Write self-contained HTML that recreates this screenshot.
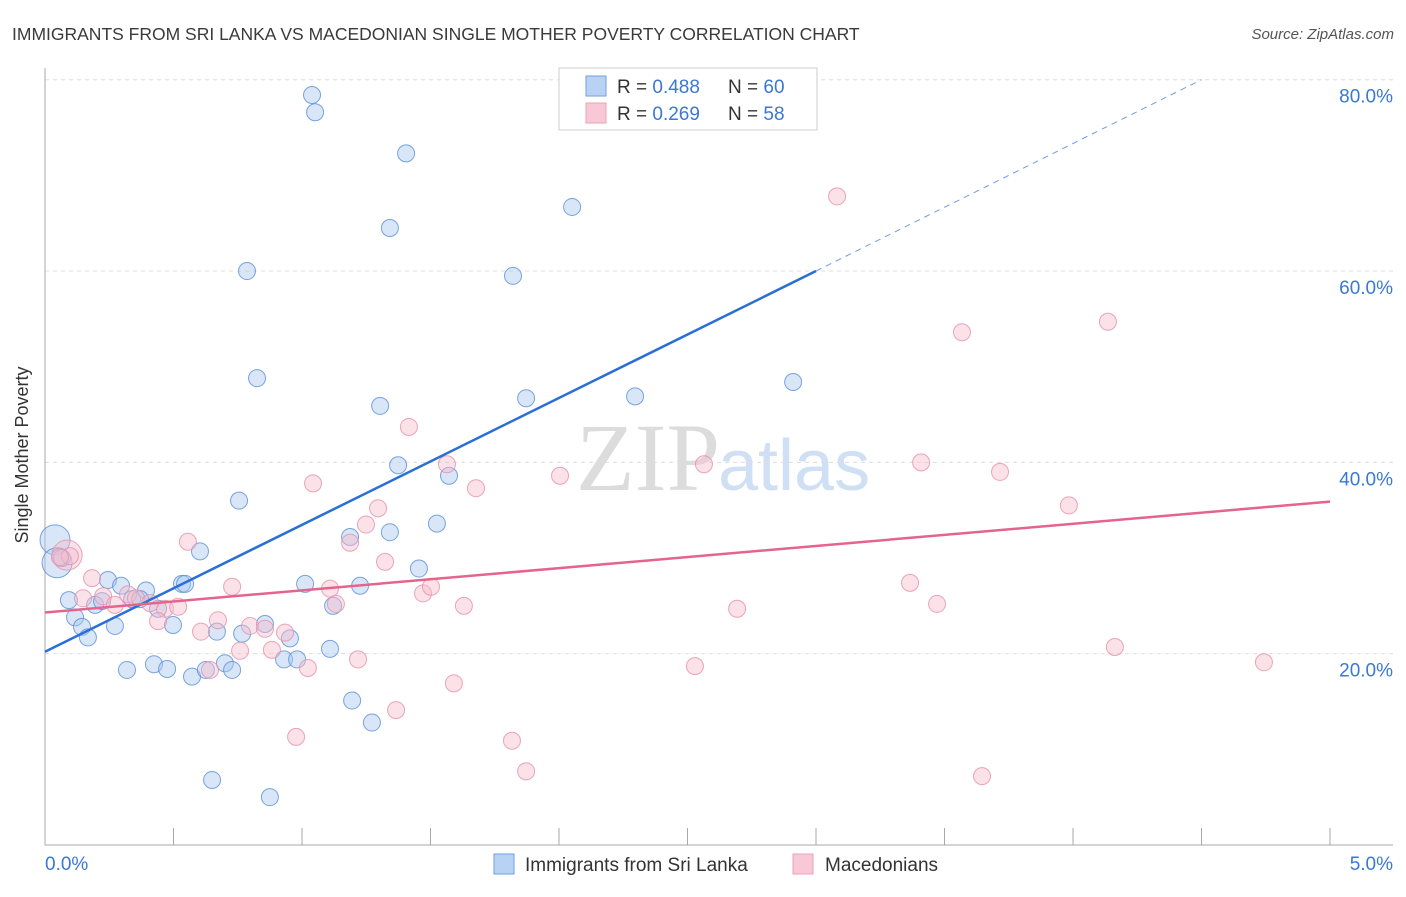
<!DOCTYPE html>
<html><head><meta charset="utf-8"><style>
body{margin:0;background:#fff;font-family:"Liberation Sans",sans-serif}
</style></head><body>
<svg width="1406" height="892" xmlns="http://www.w3.org/2000/svg" id="svg" font-family="Liberation Sans, sans-serif">
<text x="12" y="40" font-size="17.5" fill="#3a3a3a">IMMIGRANTS FROM SRI LANKA VS MACEDONIAN SINGLE MOTHER POVERTY CORRELATION CHART</text>
<text x="1394" y="39" font-size="15" fill="#555" font-style="italic" text-anchor="end">Source: ZipAtlas.com</text>
<text x="720" y="490" font-size="96" fill="#dcdcdc" font-family="Liberation Serif, serif" text-anchor="end">ZIP</text>
<text x="718" y="490" font-size="72" fill="#cfe0f4">atlas</text>
<text x="28" y="455" font-size="18" fill="#333" transform="rotate(-90 28 455)" text-anchor="middle">Single Mother Poverty</text>
<g id="grid"></g><g id="pts"></g><g id="lines"></g>
<g>
<rect x="559" y="68" width="258" height="62" fill="#fff" stroke="#ccc"/>
<rect x="586" y="76" width="20" height="20" fill="#b8d2f3" stroke="#6fa0e0"/>
<rect x="586" y="103" width="20" height="20" fill="#f8c8d6" stroke="#eba0b8"/>
<text x="617" y="93" font-size="19" fill="#333">R = <tspan fill="#3a78d6">0.488</tspan></text>
<text x="728" y="93" font-size="19" fill="#333">N = <tspan fill="#3a78d6">60</tspan></text>
<text x="617" y="120" font-size="19" fill="#333">R = <tspan fill="#3a78d6">0.269</tspan></text>
<text x="728" y="120" font-size="19" fill="#333">N = <tspan fill="#3a78d6">58</tspan></text>
</g>
<g>
<rect x="494" y="854" width="20" height="20" fill="#b8d2f3" stroke="#6fa0e0"/>
<text x="525" y="871" font-size="19" fill="#333">Immigrants from Sri Lanka</text>
<rect x="793" y="854" width="20" height="20" fill="#f8c8d6" stroke="#eba0b8"/>
<text x="825" y="871" font-size="19" fill="#333">Macedonians</text>
</g>
</svg>
<script>
const yTicks=[20,40,60,80];
const xTickLabels=["0.0%","5.0%"];
const blueX=[1.039,1.051,1.405,1.342,2.051,0.786,1.821,0.825,2.911,1.304,1.872,2.296,1.374,1.572,0.755,1.525,1.187,1.342,0.603,0.039,0.047,0.066,0.245,0.296,0.393,0.533,0.545,1.012,1.226,1.455,0.093,0.195,0.222,0.339,0.370,0.440,0.498,0.117,0.144,0.167,0.272,0.669,0.767,0.856,0.953,1.109,1.121,0.319,0.424,0.475,0.572,0.626,0.700,0.728,0.930,0.981,1.195,1.272,0.650,0.875];
const blueY=[78.4,76.6,72.3,64.5,66.7,60.0,59.5,48.8,48.4,45.9,46.7,46.9,39.7,38.6,36.0,33.6,32.2,32.7,30.7,31.9,29.5,30.0,27.7,27.1,26.6,27.3,27.3,27.3,27.1,28.9,25.6,25.1,25.5,25.7,25.7,24.7,23.0,23.8,22.8,21.7,22.9,22.3,22.1,23.1,21.6,20.5,25.0,18.3,18.9,18.4,17.6,18.3,19.0,18.3,19.4,19.4,15.1,12.8,6.8,5.0];
const pinkX=[3.082,3.568,4.136,1.416,1.564,2.004,2.564,3.409,3.716,1.043,1.677,1.296,1.249,1.187,0.556,3.984,0.086,0.097,1.323,0.183,0.728,1.109,1.471,1.502,3.366,0.226,0.323,0.148,0.272,0.354,0.467,0.518,1.132,1.630,3.471,2.693,0.440,0.673,0.607,0.798,0.856,0.934,0.883,0.759,1.023,1.218,0.642,2.529,4.163,4.743,1.591,1.366,0.977,1.817,1.872,3.646,0.058,0.409];
const pinkY=[67.8,53.6,54.7,43.7,39.8,38.6,39.8,40.0,39.0,37.8,37.3,35.2,33.5,31.6,31.7,35.5,30.3,30.2,29.6,27.9,27.0,26.8,26.3,27.0,27.4,26.0,26.2,25.8,25.1,25.8,24.7,24.9,25.2,25.0,25.2,24.7,23.4,23.5,22.3,22.9,22.6,22.2,20.4,20.3,18.5,19.4,18.3,18.7,20.7,19.1,16.9,14.1,11.3,10.9,7.7,7.2,30.1,25.3];
const blueTrendX=[0,3.0,4.5];
const blueTrendY=[20.2,60.0,80.0];
const pinkTrendX=[0,5];
const pinkTrendY=[24.3,35.9];
const NS="http://www.w3.org/2000/svg";
const sx=v=>45+v*257, sy=v=>845-v*9.566;
function mk(tag,attrs,parent){const e=document.createElementNS(NS,tag);for(const k in attrs)e.setAttribute(k,attrs[k]);parent.appendChild(e);return e;}
const grid=document.getElementById('grid');
yTicks.forEach(t=>{
 const l=mk('line',{x1:45,x2:1393,y1:sy(t),y2:sy(t),stroke:'#ddd','stroke-dasharray':'4,4'},grid);
 
 
 const tx=mk('text',{x:1393,y:sy(t)+23,'font-size':19,fill:'#3a78d6','text-anchor':'end'},grid);
 tx.textContent=t.toFixed(1)+'%';
 
 
});
const ax=mk('line',{x1:45,x2:45,y1:68,y2:845,stroke:'#aaa'},grid);


const bx=mk('line',{x1:45,x2:1393,y1:845,y2:845,stroke:'#aaa'},grid);


for(let i=0;i<=10;i++){const t=mk('line',{x1:sx(i*0.5),x2:sx(i*0.5),y1:828,y2:845,stroke:'#aaa'},grid);
 
 }
[[0,'start',45],[5,'end',1393]].forEach((d,i)=>{const t=mk('text',{x:d[2],y:870,'font-size':19,fill:'#3a78d6','text-anchor':d[1]},grid);t.textContent=xTickLabels[i];
 
 });
const pts=document.getElementById('pts');
function dots(X,Y,fill,stroke,name,bigIdx){X.forEach((x,i)=>{const r=bigIdx.includes(i)?15:8.5;
 const c=mk('circle',{cx:sx(x),cy:sy(Y[i]),r:r,fill:fill,'fill-opacity':0.45,stroke:stroke,'stroke-opacity':0.8,'stroke-width':1},pts);
 
 });}
dots(blueX,blueY,'#a9c8f0','#5a8fd8','point-sri-lanka',[19,20]);
dots(pinkX,pinkY,'#f6bccd','#e690ab','point-macedonian',[16]);
const lines=document.getElementById('lines');
const b1=mk('line',{x1:sx(blueTrendX[0]),y1:sy(blueTrendY[0]),x2:sx(blueTrendX[1]),y2:sy(blueTrendY[1]),stroke:'#2a6fd6','stroke-width':2.5},lines);


const b2=mk('line',{x1:sx(blueTrendX[1]),y1:sy(blueTrendY[1]),x2:sx(blueTrendX[2]),y2:sy(blueTrendY[2]),stroke:'#6d9ee0','stroke-width':1,'stroke-dasharray':'6,5'},lines);


const p1=mk('line',{x1:sx(pinkTrendX[0]),y1:sy(pinkTrendY[0]),x2:sx(pinkTrendX[1]),y2:sy(pinkTrendY[1]),stroke:'#e4648e','stroke-width':2.5},lines);


</script>
</body></html>
